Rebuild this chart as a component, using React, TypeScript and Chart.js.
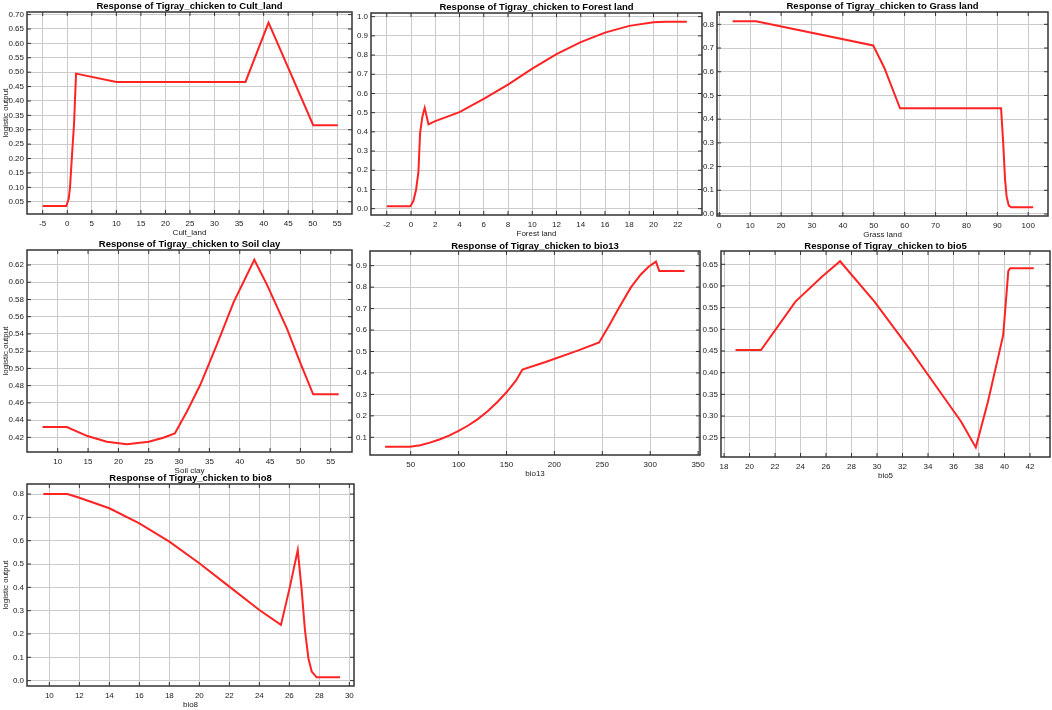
import React, { useEffect, useRef } from 'react';
import { Chart, registerables } from 'chart.js';

Chart.register(...registerables);

const FONT = '"Liberation Sans", Arial, sans-serif';
const Y_TITLE = 'logistic output';

// ---------- data ----------
const cultLandX = [-5, -0.2, 0.3, 0.56, 1.0, 1.38, 1.79, 10, 36.3, 41, 50.1, 55.1];
const cultLandY = [0.035, 0.035, 0.06, 0.1, 0.22, 0.32, 0.495, 0.466, 0.466, 0.672, 0.316, 0.316];
const cultLandXTicks = [-5, 0, 5, 10, 15, 20, 25, 30, 35, 40, 45, 50, 55];
const cultLandYTicks = [0.05, 0.1, 0.15, 0.2, 0.25, 0.3, 0.35, 0.4, 0.45, 0.5, 0.55, 0.6, 0.65, 0.7];

const forestX = [-2, -0.05, 0.2, 0.42, 0.61, 0.75, 0.94, 1.13, 1.44, 2, 4, 6, 8, 10, 12, 14, 16, 18, 20, 21, 22.75];
const forestY = [0.012, 0.012, 0.041, 0.1, 0.19, 0.395, 0.48, 0.525, 0.439, 0.456, 0.503, 0.572, 0.646, 0.729, 0.805, 0.867, 0.917, 0.952, 0.971, 0.974, 0.974];
const forestXTicks = [-2, 0, 2, 4, 6, 8, 10, 12, 14, 16, 18, 20, 22];
const forestYTicks = [0, 0.1, 0.2, 0.3, 0.4, 0.5, 0.6, 0.7, 0.8, 0.9, 1.0];

const grassX = [4.3, 11.9, 49.8, 53.4, 58.5, 91.2, 91.9, 92.5, 93.0, 93.7, 94.5, 101.6];
const grassY = [0.813, 0.813, 0.711, 0.617, 0.446, 0.446, 0.3, 0.145, 0.074, 0.035, 0.028, 0.028];
const grassXTicks = [0, 10, 20, 30, 40, 50, 60, 70, 80, 90, 100];
const grassYTicks = [0, 0.1, 0.2, 0.3, 0.4, 0.5, 0.6, 0.7, 0.8];

const clayX = [7.5, 11.5, 14.9, 18.1, 21.4, 25, 27.4, 29.3, 31.3, 33.5, 36.2, 39, 42.4, 44.5, 47.8, 49.9, 52.1, 56.3];
const clayY = [0.432, 0.432, 0.4215, 0.415, 0.412, 0.415, 0.4195, 0.4246, 0.45, 0.481, 0.527, 0.577, 0.626, 0.597, 0.546, 0.508, 0.47, 0.47];
const clayXTicks = [10, 15, 20, 25, 30, 35, 40, 45, 50, 55];
const clayYTicks = [0.42, 0.44, 0.46, 0.48, 0.5, 0.52, 0.54, 0.56, 0.58, 0.6, 0.62];

const bio13X = [23.2, 49.3, 60, 70, 80, 90, 100, 110, 120, 130, 140, 150, 160, 166.6, 190, 225, 246.7, 257, 267, 280, 290, 298.3, 306, 309.5, 335.9];
const bio13Y = [0.0555, 0.0555, 0.063, 0.075, 0.09, 0.108, 0.13, 0.155, 0.185, 0.22, 0.262, 0.31, 0.365, 0.416, 0.45, 0.505, 0.542, 0.62, 0.7, 0.8, 0.858, 0.895, 0.919, 0.875, 0.875];
const bio13XTicks = [50, 100, 150, 200, 250, 300, 350];
const bio13YTicks = [0.1, 0.2, 0.3, 0.4, 0.5, 0.6, 0.7, 0.8, 0.9];

const bio5X = [18.9, 20.9, 23.6, 25.7, 27.1, 29.8, 32.7, 35.3, 36.6, 37.75, 38.7, 39.6, 39.9, 40.3, 40.45, 42.3];
const bio5Y = [0.4523, 0.4523, 0.564, 0.622, 0.657, 0.564, 0.449, 0.341, 0.287, 0.2277, 0.333, 0.448, 0.487, 0.635, 0.641, 0.641];
const bio5XTicks = [18, 20, 22, 24, 26, 28, 30, 32, 34, 36, 38, 40, 42];
const bio5YTicks = [0.25, 0.3, 0.35, 0.4, 0.45, 0.5, 0.55, 0.6, 0.65];

const bio8X = [9.6, 11.2, 12, 14, 16, 18, 20, 22, 24, 25.44, 26.04, 26.56, 26.82, 27.04, 27.27, 27.49, 27.82, 29.38];
const bio8Y = [0.8, 0.8, 0.784, 0.739, 0.674, 0.596, 0.503, 0.403, 0.303, 0.239, 0.403, 0.56, 0.389, 0.217, 0.096, 0.039, 0.014, 0.014];
const bio8XTicks = [10, 12, 14, 16, 18, 20, 22, 24, 26, 28, 30];
const bio8YTicks = [0, 0.1, 0.2, 0.3, 0.4, 0.5, 0.6, 0.7, 0.8];

// ---------- panel definitions ----------
type PanelDef = {
  title: string;
  xLabel: string;
  showY: boolean;
  xs: number[];
  ys: number[];
  xTicks: number[];
  yTicks: number[];
  xDec: number;
  yDec: number;
  xRange: [number, number];
  yRange: [number, number];
  frame: [number, number, number, number]; // left, top, right, bottom
  yW: number;
  tH: number;
};

const panels: PanelDef[] = [
  { title: 'Response of Tigray_chicken to Cult_land', xLabel: 'Cult_land', showY: true, xs: cultLandX, ys: cultLandY, xTicks: cultLandXTicks, yTicks: cultLandYTicks, xDec: 0, yDec: 2, xRange: [-8.2, 58.0], yRange: [0.0075, 0.709], frame: [27, 12, 352, 214], yW: 27, tH: 12 },
  { title: 'Response of Tigray_chicken to Forest land', xLabel: 'Forest land', showY: false, xs: forestX, ys: forestY, xTicks: forestXTicks, yTicks: forestYTicks, xDec: 0, yDec: 1, xRange: [-3.3, 24.0], yRange: [-0.033, 1.019], frame: [371, 13, 702, 215], yW: 24, tH: 12 },
  { title: 'Response of Tigray_chicken to Grass land', xLabel: 'Grass land', showY: false, xs: grassX, ys: grassY, xTicks: grassXTicks, yTicks: grassYTicks, xDec: 0, yDec: 1, xRange: [-0.75, 106.4], yRange: [-0.0085, 0.852], frame: [717, 12, 1048, 216], yW: 24, tH: 12 },
  { title: 'Response of Tigray_chicken to Soil clay', xLabel: 'Soil clay', showY: true, xs: clayX, ys: clayY, xTicks: clayXTicks, yTicks: clayYTicks, xDec: 0, yDec: 2, xRange: [4.94, 58.5], yRange: [0.403, 0.6374], frame: [27, 250, 352, 452], yW: 27, tH: 12 },
  { title: 'Response of Tigray_chicken to bio13', xLabel: 'bio13', showY: false, xs: bio13X, ys: bio13Y, xTicks: bio13XTicks, yTicks: bio13YTicks, xDec: 0, yDec: 1, xRange: [7.5, 352], yRange: [0.0175, 0.9685], frame: [370, 251, 700, 455], yW: 24, tH: 10 },
  { title: 'Response of Tigray_chicken to bio5', xLabel: 'bio5', showY: false, xs: bio5X, ys: bio5Y, xTicks: bio5XTicks, yTicks: bio5YTicks, xDec: 0, yDec: 2, xRange: [17.76, 43.57], yRange: [0.2055, 0.6807], frame: [721, 251, 1050, 457], yW: 24, tH: 10 },
  { title: 'Response of Tigray_chicken to bio8', xLabel: 'bio8', showY: true, xs: bio8X, ys: bio8Y, xTicks: bio8XTicks, yTicks: bio8YTicks, xDec: 0, yDec: 1, xRange: [8.51, 30.31], yRange: [-0.023, 0.843], frame: [27, 484, 354, 686], yW: 27, tH: 12 },
];

const X_H = 25;
const R_PAD = 10;
const GRID = '#cbcbcb';
const TEXT = '#222';

const framePlugin = {
  id: 'frameTicks',
  afterDraw(chart: any) {
    const { ctx, chartArea } = chart;
    const { left, top, right, bottom } = chartArea;
    const xs = chart.scales.x;
    const ys = chart.scales.y;
    ctx.save();
    ctx.strokeStyle = '#333';
    ctx.lineWidth = 1;
    ctx.beginPath();
    xs.ticks.forEach((t: any) => {
      const p = xs.getPixelForValue(t.value);
      ctx.moveTo(p, bottom);
      ctx.lineTo(p, bottom - 4);
      ctx.moveTo(p, top);
      ctx.lineTo(p, top + 4);
    });
    ys.ticks.forEach((t: any) => {
      const p = ys.getPixelForValue(t.value);
      ctx.moveTo(left, p);
      ctx.lineTo(left + 4, p);
      ctx.moveTo(right, p);
      ctx.lineTo(right - 4, p);
    });
    ctx.stroke();
    ctx.lineWidth = 1.5;
    ctx.strokeRect(left, top, right - left, bottom - top);
    ctx.restore();
  },
};

function Panel({ def }: { def: PanelDef }) {
  const ref = useRef<HTMLCanvasElement | null>(null);
  const [fl, ft, fr, fb] = def.frame;
  const width = def.yW + (fr - fl) + R_PAD;
  const height = def.tH + (fb - ft) + X_H;
  const left = fl - def.yW;
  const top = ft - def.tH;

  useEffect(() => {
    if (!ref.current) return;
    const points = def.xs.map((x, i) => ({ x, y: def.ys[i] }));
    const chart = new Chart(ref.current, {
      type: 'line',
      data: {
        datasets: [
          {
            data: points,
            borderColor: 'rgb(255,35,35)',
            borderWidth: 2,
            pointRadius: 0,
            tension: 0,
            fill: false,
          },
        ],
      },
      options: {
        animation: false,
        responsive: false,
        maintainAspectRatio: false,
        layout: { padding: { left: 0, top: 0, bottom: 0, right: R_PAD } },
        plugins: {
          legend: { display: false },
          tooltip: { enabled: false },
          title: {
            display: true,
            text: def.title,
            fullSize: false,
            color: '#000',
            font: { family: FONT, size: 9.5, weight: 'bold', lineHeight: def.tH + 'px' },
            padding: { top: 0, bottom: 0 },
          },
        },
        scales: {
          x: {
            type: 'linear',
            min: def.xRange[0],
            max: def.xRange[1],
            afterBuildTicks: (s: any) => {
              s.ticks = def.xTicks.map((v) => ({ value: v }));
            },
            afterFit: (s: any) => {
              s.height = X_H;
              s.paddingLeft = 0;
              s.paddingRight = 0;
            },
            ticks: {
              autoSkip: false,
              maxRotation: 0,
              padding: 4.5,
              color: TEXT,
              font: { family: FONT, size: 8, lineHeight: '10px' },
              callback: (v: any) => Number(v).toFixed(def.xDec),
            },
            grid: { color: GRID, lineWidth: 1, drawTicks: false },
            border: { display: false },
            title: {
              display: true,
              text: def.xLabel,
              color: TEXT,
              font: { family: FONT, size: 8, lineHeight: '10px' },
              padding: { top: 0, bottom: 1 },
            },
          },
          y: {
            type: 'linear',
            min: def.yRange[0],
            max: def.yRange[1],
            afterBuildTicks: (s: any) => {
              s.ticks = def.yTicks.map((v) => ({ value: v }));
            },
            afterFit: (s: any) => {
              s.width = def.yW;
              s.paddingTop = 0;
              s.paddingBottom = 0;
            },
            ticks: {
              autoSkip: false,
              padding: 3,
              color: TEXT,
              font: { family: FONT, size: 8, lineHeight: '10px' },
              callback: (v: any) => Number(v).toFixed(def.yDec),
            },
            grid: { color: GRID, lineWidth: 1, drawTicks: false },
            border: { display: false },
            title: {
              display: def.showY,
              text: Y_TITLE,
              color: TEXT,
              font: { family: FONT, size: 8, lineHeight: '10px' },
              padding: { top: 1, bottom: 0 },
            },
          },
        },
      },
      plugins: [framePlugin],
    } as any);
    return () => chart.destroy();
  }, [def]);

  return (
    <canvas
      ref={ref}
      width={width}
      height={height}
      style={{ position: 'absolute', left, top, width, height }}
    />
  );
}

export default function App() {
  return (
    <div
      style={{
        position: 'fixed',
        left: 0,
        top: 0,
        width: 1052,
        height: 710,
        background: '#fff',
        overflow: 'hidden',
      }}
    >
      {panels.map((p) => (
        <Panel key={p.title} def={p} />
      ))}
    </div>
  );
}
